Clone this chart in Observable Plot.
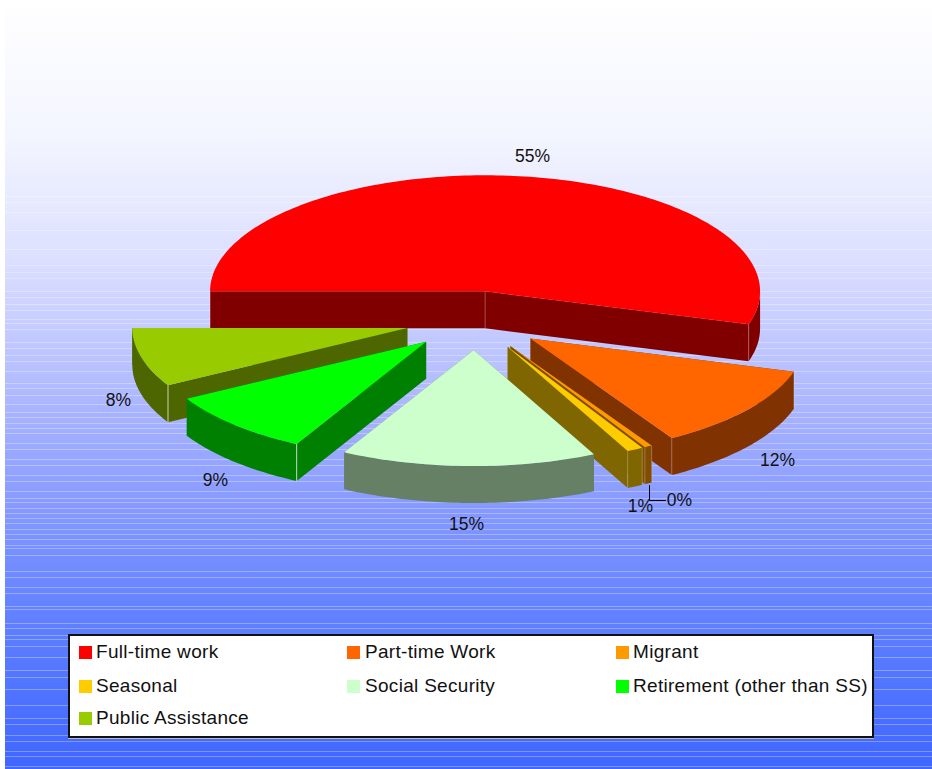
<!DOCTYPE html>
<html>
<head>
<meta charset="utf-8">
<script src="https://cdn.jsdelivr.net/npm/d3@7"></script>
<script src="https://cdn.jsdelivr.net/npm/@observablehq/plot@0.6"></script>
<style>
  html, body { margin: 0; padding: 0; background: #fff; }
  #stage { position: relative; width: 932px; height: 769px; overflow: hidden; font-family: "Liberation Sans", Arial, sans-serif; }
  #bg { position: absolute; left: 5px; top: 0; width: 927px; height: 769px;
    background: linear-gradient(to bottom, #ffffff 0px, #fdfdff 20px, #f4f6ff 130px, #dcdfff 260px, #b4bdff 380px, #8a9cff 495px, #6080ff 620px, #3f66ff 769px); }
  #chart { position: absolute; left: 0; top: 0; }
  #legend { position: absolute; left: 68px; top: 634px; width: 802px; height: 100px; background: #fff; border: 2px solid #111; box-shadow: 0 1px 0 #bbb; }
  #legend .sw { position: absolute; width: 13px; height: 13px; }
  #legend .tx { position: absolute; font-size: 19px; letter-spacing: 0.3px; line-height: 20px; color: #111; white-space: nowrap; }
</style>
</head>
<body>
<div id="stage"><div id="bg"></div><div id="chart"></div><div id="legend"></div></div>
<script>
// ---- data ----
const categories = ["Full-time work", "Part-time Work", "Migrant", "Seasonal", "Social Security", "Retirement (other than SS)", "Public Assistance"];
const shares = [54.6, 11.8, 0.45, 0.95, 15.0, 9.0, 8.2];
const colors = ["#ff0000", "#ff6600", "#ff9900", "#ffcc00", "#ccffcc", "#00ff00", "#99cc00"];
const streakY = [196,202,212,230,249,265,272,278,291,297,304,310,319,323,329,342,348,355,361,371,383,388,395,404,412,417,423,428,433,443,449,459,465,475,481,491,498,502,508,513,518,523,529,534,539,545,548,555,571,577,587,593,606,609,623,628,635,639,646,657,670,677,689,705,718,724,735,741,751,756,766];

// ---- layout of the tilted pie ----
const W = 932, H = 769;
const cx = 474.5, cy = 320, rx = 275, tilt = 116 / 275, depth = 37, explode = 70;
const labelAt = [[532,156],[777,460],[679,500],[640,506],[466,524],[215,480],[118,400]];
const drawOrder = [0, 1, 2, 3, 6, 5, 4];

const halve = c => { const k = d3.rgb(c); return d3.rgb(k.r / 2, k.g / 2, k.b / 2).formatHex(); };
const total = d3.sum(shares);
let run = 0;
const slices = shares.map((v, i) => {
  const a0 = Math.PI - run / total * 2 * Math.PI;
  run += v;
  const a1 = Math.PI - run / total * 2 * Math.PI;
  const mid = (a0 + a1) / 2;
  const tx = cx + explode * Math.cos(mid), ty = cy - explode * tilt * Math.sin(mid);
  const arc = (from, to) => {
    const n = Math.max(2, Math.ceil((from - to) / 0.02));
    return d3.range(n + 1).map(k => {
      const a = from + (to - from) * k / n;
      return {x: tx + rx * Math.cos(a), y: ty - rx * tilt * Math.sin(a)};
    });
  };
  const rim = arc(a0, a1);
  const front = arc(Math.min(a0, 0), a1); // only the near part of the rim shows a wall
  const tip = {x: tx, y: ty};
  const low = p => ({x: p.x, y: p.y + depth});
  const last = rim[rim.length - 1];
  const walls = [
    ...[...front, ...front.slice().reverse().map(low)].map(p => ({...p, w: "rim"})),
    ...[tip, rim[0], low(rim[0]), low(tip)].map(p => ({...p, w: "start"})),
    ...[tip, last, low(last), low(tip)].map(p => ({...p, w: "end"}))
  ];
  const edges = i === 4 ? [] : i >= 5 ? [rim[0]] : [tip, rim[0], last];
  return {i, outline: [tip, ...rim], walls, edges, color: colors[i], dark: halve(colors[i])};
});

const labels = shares.map((v, i) => ({text: Math.round(v) + "%", x: labelAt[i][0], y: labelAt[i][1]}));
const leader = [{x: 649, y: 485}, {x: 649, y: 500}, {x: 665, y: 500}];

const marks = [
  Plot.ruleY(streakY, {x1: () => 5, x2: () => W, y: d => d, stroke: "#fff", strokeOpacity: 0.3, strokeWidth: 1}),
  ...drawOrder.flatMap(i => {
    const s = slices[i];
    return [
      Plot.line(s.walls, {x: "x", y: "y", z: "w", fill: s.dark, stroke: "none"}),
      Plot.link(s.edges, {x1: "x", y1: "y", x2: "x", y2: d => d.y + depth, stroke: "#fff", strokeOpacity: i >= 5 ? 0.7 : 0.25, strokeWidth: 1}),
      Plot.line(s.outline, {x: "x", y: "y", fill: s.color, stroke: "none"})
    ];
  }),
  Plot.line(leader, {x: "x", y: "y", stroke: "#000", strokeWidth: 1}),
  Plot.text(labels, {x: "x", y: "y", text: "text", fontSize: 17.5, fill: "#111", fontFamily: "Liberation Sans"})
];

const chart = Plot.plot({
  width: W, height: H,
  margin: 0,
  x: {domain: [0, W], range: [0, W], axis: null},
  y: {domain: [0, H], range: [0, H], axis: null},
  style: {background: "transparent"},
  marks
});
document.getElementById("chart").append(chart);

// ---- legend ----
const legendCols = [9, 277, 546], legendRows = [10, 44, 76], textShift = 17;
const legend = d3.select("#legend");
categories.forEach((c, i) => {
  const col = legendCols[i % 3], row = legendRows[Math.floor(i / 3)];
  legend.append("div").attr("class", "sw").style("left", col + "px").style("top", row + "px").style("background", colors[i]);
  legend.append("div").attr("class", "tx").style("left", col + textShift + (i % 3 === 1 ? 1 : 0) + "px").style("top", row - 4 + "px").text(c);
});
</script>
</body>
</html>
